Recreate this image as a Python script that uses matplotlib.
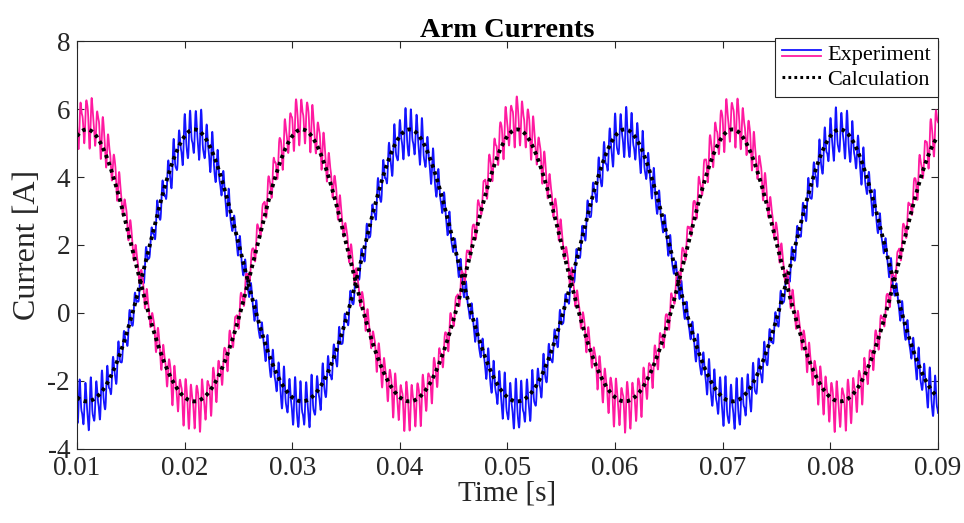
import numpy as np
import matplotlib
matplotlib.use("Agg")
import matplotlib.pyplot as plt
from matplotlib.legend_handler import HandlerBase
from matplotlib.lines import Line2D

# ---- waveform description -------------------------------------------------
time_span = [0.01, 0.09]          # s
grid_hz = 50.0                    # fundamental frequency
upper_peak_time = 0.0109          # s, first maximum of the upper (magenta) arm

# calculated arm current: DC + fundamental + 2nd harmonic (A)
calc_dc = 1.15
calc_h1 = 4.0
calc_h2 = 0.25

# measured arm currents [upper, lower]: same components plus switching ripple (A)
meas_dc = [1.3, 1.05]
meas_h1 = [4.2, 4.0]
meas_h2 = [0.2, 0.2]
ripple_hz = [1950.0, 3900.0, 2730.0]
ripple_amp = [0.46, 0.13, 0.08]
ripple_phase = [0.0, 0.7, 1.9]
ripple_mod_2nd = 0.15             # ripple envelope swing at 2x grid frequency

x_ticks = [0.01, 0.02, 0.03, 0.04, 0.05, 0.06, 0.07, 0.08, 0.09]
x_tick_labels = ["0.01", "0.02", "0.03", "0.04", "0.05", "0.06", "0.07", "0.08", "0.09"]
y_ticks = [-4, -2, 0, 2, 4, 6, 8]
y_tick_labels = ["-4", "-2", "0", "2", "4", "6", "8"]

# ---- signals ---------------------------------------------------------------
t = np.linspace(time_span[0], time_span[1], 40001)
theta = 2 * np.pi * grid_hz * (t - upper_peak_time)


def arm(dc, h1, h2, sign):
    return dc + sign * h1 * np.cos(theta) + h2 * np.cos(2 * theta)


def ripple(shift):
    env = 1.0 + (ripple_mod_2nd / ripple_amp[0]) * np.cos(2 * theta)
    r = np.zeros_like(t)
    for f, a, p in zip(ripple_hz, ripple_amp, ripple_phase):
        r += a * np.sin(2 * np.pi * f * t + p + shift)
    return env * r


calc_upper = arm(calc_dc, calc_h1, calc_h2, +1)
calc_lower = arm(calc_dc, calc_h1, calc_h2, -1)
meas_upper = arm(meas_dc[0], meas_h1[0], meas_h2[0], +1) + ripple(0.0)
meas_lower = arm(meas_dc[1], meas_h1[1], meas_h2[1], -1) + ripple(1.3)

# ---- style -----------------------------------------------------------------
plt.rcParams["font.family"] = ["Liberation Serif", "DejaVu Serif"]
plt.rcParams["axes.unicode_minus"] = False

blue = "#1414ff"
pink = "#ff1aa0"
frame = "#262626"

fig = plt.figure(figsize=(9.64, 5.23), dpi=100)
ax = fig.add_axes([0.0799, 0.1415, 0.8931, 0.7801])

ax.plot(t, meas_lower, color=blue, lw=1.3)
ax.plot(t, meas_upper, color=pink, lw=1.3)
calc_kw = dict(color="black", lw=2.8, linestyle=(0, (0.9, 1.05)))
ax.plot(t, calc_upper, **calc_kw)
ax.plot(t, calc_lower, **calc_kw)

ax.set_xlim(time_span)
ax.set_ylim(-4, 8)
ax.set_xticks(x_ticks)
ax.set_xticklabels(x_tick_labels)
ax.set_yticks(y_ticks)
ax.set_yticklabels(y_tick_labels)
ax.tick_params(direction="in", top=True, right=True, length=5, width=0.8,
               colors=frame, labelsize=19.5, labelcolor="#262626", pad=5)
for s in ax.spines.values():
    s.set_color(frame)
    s.set_linewidth(0.8)

ax.set_xlabel("Time [s]", fontsize=21, color="#262626", labelpad=0)
ax.set_ylabel("Current [A]", fontsize=23, color="#262626", labelpad=4)
ax.set_title("Arm Currents", fontsize=20.5, fontweight="bold", pad=3)


class TwoLineHandler(HandlerBase):
    def create_artists(self, legend, orig_handle, xdescent, ydescent,
                       width, height, fontsize, trans):
        artists = []
        offsets = [0.66, 0.24]
        for line, off in zip(orig_handle, offsets):
            y = off * height - ydescent
            artists.append(Line2D([-xdescent, width - xdescent], [y, y],
                                  color=line.get_color(), lw=line.get_linewidth(),
                                  transform=trans))
        return artists


h_blue = Line2D([], [], color=blue, lw=1.3)
h_pink = Line2D([], [], color=pink, lw=1.3)
h_calc = Line2D([], [], **calc_kw)
h_calc.set_linewidth(2.2)
leg = ax.legend([(h_blue, h_pink), h_calc], ["Experiment", "Calculation"],
                handler_map={tuple: TwoLineHandler()},
                loc="upper right", bbox_to_anchor=(1.0, 1.008), borderaxespad=0,
                fontsize=16, fancybox=False, framealpha=1, edgecolor=frame,
                handlelength=1.75, handletextpad=0.3, borderpad=0.3,
                labelspacing=0.2)
leg.get_frame().set_linewidth(0.8)

fig.savefig("out.png", dpi=100)
